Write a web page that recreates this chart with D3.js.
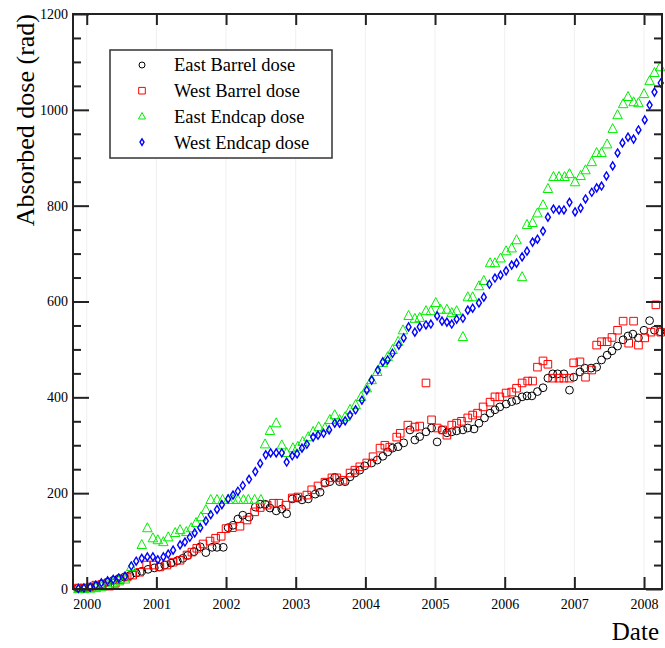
<!DOCTYPE html>
<html>
<head>
<meta charset="utf-8">
<script src="https://cdn.jsdelivr.net/npm/d3@7"></script>
<style>
  body { margin: 0; background: #fff; }
  svg text { font-family: "Liberation Serif", "Times New Roman", Times, serif; fill: #000; }
</style>
</head>
<body>
<div id="chart"></div>
<script>
// dose readings, [decimal year, rad]
const eastBarrel = [
  [1999.88,2],[1999.96,2],[2000.05,3],[2000.13,6],[2000.21,10],[2000.29,14],[2000.38,18],[2000.46,22],[2000.54,25],[2000.62,28],
  [2000.71,33],[2000.79,37],[2000.88,41],[2000.97,44],[2001.04,46],[2001.12,50],[2001.21,54],[2001.30,59],[2001.38,64],[2001.45,70],
  [2001.54,78],[2001.63,88],[2001.71,76],[2001.80,87],[2001.87,87],[2001.96,87],[2002.03,128],[2002.10,133],[2002.17,146],[2002.24,154],
  [2002.33,150],[2002.42,171],[2002.49,177],[2002.56,177],[2002.63,169],[2002.72,163],[2002.80,167],[2002.87,157],[2002.95,188],[2003.02,190],
  [2003.09,186],[2003.18,188],[2003.28,198],[2003.35,202],[2003.42,221],[2003.49,224],[2003.56,233],[2003.63,224],[2003.71,224],[2003.78,234],
  [2003.85,242],[2003.92,248],[2003.99,257],[2004.09,263],[2004.17,269],[2004.25,277],[2004.32,286],[2004.39,294],[2004.47,297],[2004.55,305],
  [2004.64,332],[2004.71,311],[2004.78,318],[2004.87,328],[2004.95,336],[2005.03,307],[2005.10,332],[2005.17,326],[2005.24,328],[2005.31,330],
  [2005.40,332],[2005.47,336],[2005.56,334],[2005.63,346],[2005.71,357],[2005.79,367],[2005.86,374],[2005.93,380],[2006.02,386],[2006.10,391],
  [2006.17,394],[2006.25,401],[2006.32,403],[2006.39,403],[2006.47,412],[2006.55,420],[2006.62,440],[2006.69,449],[2006.76,449],[2006.85,449],
  [2006.93,415],[2006.99,442],[2007.08,453],[2007.15,461],[2007.24,461],[2007.32,463],[2007.39,478],[2007.47,488],[2007.54,497],[2007.62,507],
  [2007.70,520],[2007.77,528],[2007.84,532],[2007.92,524],[2008.00,540],[2008.08,560],[2008.15,540],[2008.23,537]
];

const westBarrel = [
  [1999.88,2],[1999.96,2],[2000.05,4],[2000.13,8],[2000.22,10],[2000.33,6],[2000.41,12],[2000.48,19],[2000.58,25],[2000.66,29],
  [2000.76,35],[2000.86,50],[2000.96,50],[2001.05,46],[2001.15,50],[2001.24,56],[2001.34,60],[2001.44,71],[2001.51,77],[2001.58,85],
  [2001.67,94],[2001.77,100],[2001.85,106],[2001.93,110],[2002.00,126],[2002.09,128],[2002.20,131],[2002.30,144],[2002.41,161],[2002.49,170],
  [2002.59,175],[2002.68,179],[2002.76,179],[2002.86,175],[2002.95,190],[2003.03,192],[2003.16,196],[2003.23,207],[2003.32,215],[2003.42,223],
  [2003.52,232],[2003.59,232],[2003.68,227],[2003.78,242],[2003.85,248],[2003.92,255],[2004.02,263],[2004.11,276],[2004.21,294],[2004.28,300],
  [2004.35,296],[2004.45,317],[2004.50,325],[2004.61,342],[2004.71,338],[2004.78,340],[2004.87,430],[2004.95,353],[2005.03,336],[2005.11,332],
  [2005.17,321],[2005.24,342],[2005.31,346],[2005.38,350],[2005.47,357],[2005.54,363],[2005.61,367],[2005.69,380],[2005.79,390],[2005.86,401],
  [2005.93,401],[2006.02,409],[2006.10,411],[2006.17,419],[2006.25,430],[2006.33,434],[2006.40,434],[2006.47,463],[2006.55,476],[2006.62,469],
  [2006.69,440],[2006.78,440],[2006.85,440],[2006.93,440],[2006.99,472],[2007.08,474],[2007.16,442],[2007.25,457],[2007.32,509],[2007.39,516],
  [2007.47,516],[2007.54,525],[2007.62,540],[2007.70,559],[2007.78,513],[2007.85,559],[2007.92,509],[2008.01,524],[2008.10,536],[2008.17,593],
  [2008.24,536]
];

const eastEndcap = [
  [1999.88,0],[1999.96,0],[2000.05,1],[2000.13,2],[2000.21,4],[2000.30,8],[2000.38,12],[2000.46,16],[2000.55,20],[2000.64,46],
  [2000.79,92],[2000.87,127],[2000.95,106],[2001.02,102],[2001.10,98],[2001.17,108],[2001.27,117],[2001.34,123],[2001.43,119],[2001.50,127],
  [2001.57,138],[2001.64,150],[2001.71,165],[2001.78,186],[2001.87,186],[2001.95,186],[2002.03,186],[2002.10,186],[2002.17,186],[2002.25,186],
  [2002.32,186],[2002.41,186],[2002.50,186],[2002.56,302],[2002.63,330],[2002.72,346],[2002.80,300],[2002.87,284],[2002.96,294],[2003.03,297],
  [2003.10,307],[2003.18,317],[2003.25,328],[2003.33,338],[2003.42,336],[2003.49,353],[2003.56,363],[2003.63,353],[2003.71,359],[2003.78,374],
  [2003.86,384],[2003.94,401],[2004.02,419],[2004.09,436],[2004.17,453],[2004.25,472],[2004.32,484],[2004.39,499],[2004.47,516],[2004.54,540],
  [2004.62,570],[2004.71,564],[2004.78,566],[2004.87,580],[2004.94,580],[2005.01,597],[2005.08,583],[2005.17,583],[2005.24,576],[2005.31,580],
  [2005.40,526],[2005.47,609],[2005.54,609],[2005.63,632],[2005.70,643],[2005.79,680],[2005.86,680],[2005.94,690],[2006.02,705],[2006.10,711],
  [2006.17,728],[2006.25,651],[2006.32,760],[2006.40,764],[2006.47,784],[2006.55,801],[2006.62,835],[2006.70,860],[2006.78,860],[2006.86,860],
  [2006.93,866],[2007.01,849],[2007.09,862],[2007.16,874],[2007.25,891],[2007.32,910],[2007.39,910],[2007.47,928],[2007.55,960],[2007.62,989],
  [2007.70,1012],[2007.77,1027],[2007.85,1016],[2007.92,1014],[2008.00,1033],[2008.08,1060],[2008.15,1077],[2008.23,1089]
];

const westEndcap = [
  [1999.88,1],[1999.96,2],[2000.05,4],[2000.13,8],[2000.21,13],[2000.30,17],[2000.38,20],[2000.46,23],[2000.55,27],[2000.64,48],
  [2000.71,58],[2000.79,64],[2000.87,67],[2000.95,67],[2001.02,61],[2001.10,67],[2001.17,73],[2001.24,81],[2001.34,92],[2001.41,98],
  [2001.48,108],[2001.55,117],[2001.63,128],[2001.71,142],[2001.78,155],[2001.87,166],[2001.94,176],[2002.03,188],[2002.10,196],[2002.17,204],
  [2002.24,216],[2002.33,229],[2002.42,245],[2002.49,262],[2002.57,280],[2002.64,284],[2002.72,284],[2002.80,284],[2002.87,265],[2002.95,278],
  [2003.02,282],[2003.09,294],[2003.16,302],[2003.25,317],[2003.32,321],[2003.40,325],[2003.48,332],[2003.56,346],[2003.63,346],[2003.71,351],
  [2003.78,363],[2003.86,374],[2003.95,394],[2004.02,415],[2004.09,436],[2004.18,457],[2004.25,474],[2004.32,478],[2004.39,492],[2004.48,509],
  [2004.55,524],[2004.62,547],[2004.71,536],[2004.78,547],[2004.87,551],[2004.94,553],[2005.03,570],[2005.10,559],[2005.17,557],[2005.24,553],
  [2005.31,563],[2005.40,565],[2005.47,582],[2005.54,586],[2005.63,597],[2005.70,609],[2005.78,636],[2005.86,649],[2005.94,655],[2006.02,664],
  [2006.10,676],[2006.17,680],[2006.25,693],[2006.32,705],[2006.40,724],[2006.47,730],[2006.55,747],[2006.62,776],[2006.70,793],[2006.78,791],
  [2006.85,791],[2006.93,807],[2007.01,787],[2007.09,795],[2007.16,814],[2007.25,828],[2007.32,837],[2007.39,841],[2007.46,862],[2007.55,883],
  [2007.62,910],[2007.69,931],[2007.77,943],[2007.85,939],[2007.92,958],[2008.01,979],[2008.08,1010],[2008.15,1037],[2008.24,1056]
];

const seriesNames = ["East Barrel dose", "West Barrel dose", "East Endcap dose", "West Endcap dose"];
const xTicks = [2000, 2001, 2002, 2003, 2004, 2005, 2006, 2007, 2008];
const yTicks = [0, 200, 400, 600, 800, 1000, 1200];
const yMinorTicks = [50, 100, 150, 250, 300, 350, 450, 500, 550, 650, 700, 750, 850, 900, 950, 1050, 1100, 1150];

const width = 665, height = 648;
const margin = { top: 14, right: 3, bottom: 59, left: 73 };

const x = d3.scaleLinear().domain([1999.803, 2008.258]).range([margin.left, width - margin.right]);
const y = d3.scaleLinear().domain([0, 1200]).range([height - margin.bottom, margin.top]);

const svg = d3.select("#chart").append("svg")
    .attr("width", width)
    .attr("height", height);

// faint year grid
svg.append("g")
    .selectAll("line")
    .data(xTicks)
    .enter().append("line")
    .attr("x1", d => x(d)).attr("x2", d => x(d))
    .attr("y1", y(1200)).attr("y2", y(0))
    .attr("stroke", "#f0f0f0")
    .attr("stroke-width", 1);

// marker shapes
function circle(s) { return d3.symbol().type(d3.symbolCircle).size(Math.PI * s * s)(); }
function square(s) { return `M${-s},${-s}H${s}V${s}H${-s}Z`; }
function triangle(w, h) { return `M0,${-h * 0.6}L${w / 2},${h * 0.4}L${-w / 2},${h * 0.4}Z`; }
function diamond(w, h) { return `M0,${-h / 2}L${w / 2},0L0,${h / 2}L${-w / 2},0Z`; }

const series = [
    { name: seriesNames[0], data: eastBarrel, color: "#000000", path: circle(3.9), legendPath: circle(3), sw: 1 },
    { name: seriesNames[1], data: westBarrel, color: "#ff0000", path: square(3.8), legendPath: square(3.3), sw: 1 },
    { name: seriesNames[2], data: eastEndcap, color: "#00ee00", path: triangle(9.5, 9), legendPath: triangle(7, 6.5), sw: 1 },
    { name: seriesNames[3], data: westEndcap, color: "#0000ff", path: diamond(5, 8), legendPath: diamond(4, 6.5), sw: 1.4 }
];

const plot = svg.append("g");
series.forEach(s => {
    plot.append("g")
        .selectAll("path")
        .data(s.data)
        .enter().append("path")
        .attr("d", s.path)
        .attr("transform", d => `translate(${x(d[0])},${y(d[1])})`)
        .attr("fill", "none")
        .attr("stroke", s.color)
        .attr("stroke-width", s.sw);
});

// axes, ticks pointing inward
const axisStyle = g => {
    g.select(".domain").remove();
    g.selectAll(".tick line").attr("stroke", "#222").attr("stroke-width", 2);
    g.selectAll(".tick text").style("font-size", "14px");
};

svg.append("g")
    .attr("transform", `translate(${margin.left},0)`)
    .call(d3.axisLeft(y).tickValues(yTicks).tickSize(-16).tickPadding(5).tickFormat(d3.format("d")))
    .call(axisStyle);
svg.append("g")
    .attr("transform", `translate(${margin.left},0)`)
    .call(d3.axisLeft(y).tickValues(yMinorTicks).tickSize(-8).tickFormat(""))
    .call(axisStyle);
svg.append("g")
    .attr("transform", `translate(${width - margin.right},0)`)
    .call(d3.axisRight(y).tickValues(yTicks).tickSize(-16).tickFormat(""))
    .call(axisStyle);
svg.append("g")
    .attr("transform", `translate(${width - margin.right},0)`)
    .call(d3.axisRight(y).tickValues(yMinorTicks).tickSize(-8).tickFormat(""))
    .call(axisStyle);
svg.append("g")
    .attr("transform", `translate(0,${height - margin.bottom})`)
    .call(d3.axisBottom(x).tickValues(xTicks).tickSize(-12).tickPadding(10).tickFormat(d3.format("d")))
    .call(axisStyle);
svg.append("g")
    .attr("transform", `translate(0,${margin.top})`)
    .call(d3.axisTop(x).tickValues(xTicks).tickSize(-11).tickFormat(""))
    .call(axisStyle);

// frame
svg.append("rect")
    .attr("x", margin.left).attr("y", margin.top)
    .attr("width", width - margin.left - margin.right)
    .attr("height", height - margin.top - margin.bottom)
    .attr("fill", "none")
    .attr("stroke", "#222")
    .attr("stroke-width", 2);

// axis titles
svg.append("text")
    .attr("transform", `translate(34,${margin.top}) rotate(-90)`)
    .attr("text-anchor", "end")
    .style("font-size", "26px")
    .text("Absorbed dose (rad)");

svg.append("text")
    .attr("x", 659).attr("y", 640)
    .attr("text-anchor", "end")
    .style("font-size", "25px")
    .text("Date");

// legend
const legend = svg.append("g");
legend.append("rect")
    .attr("x", 110).attr("y", 50)
    .attr("width", 222).attr("height", 108)
    .attr("fill", "#fff")
    .attr("stroke", "#333")
    .attr("stroke-width", 1.5);

const rows = legend.selectAll("g.item")
    .data(series)
    .enter().append("g")
    .attr("class", "item")
    .attr("transform", (d, i) => `translate(142,${65 + i * 25.7})`);
rows.append("path")
    .attr("d", d => d.legendPath)
    .attr("fill", "none")
    .attr("stroke", d => d.color)
    .attr("stroke-width", d => d.sw);
rows.append("text")
    .attr("x", 32)
    .attr("dy", "0.35em")
    .style("font-size", "18.5px")
    .text(d => d.name);
</script>
</body>
</html>
